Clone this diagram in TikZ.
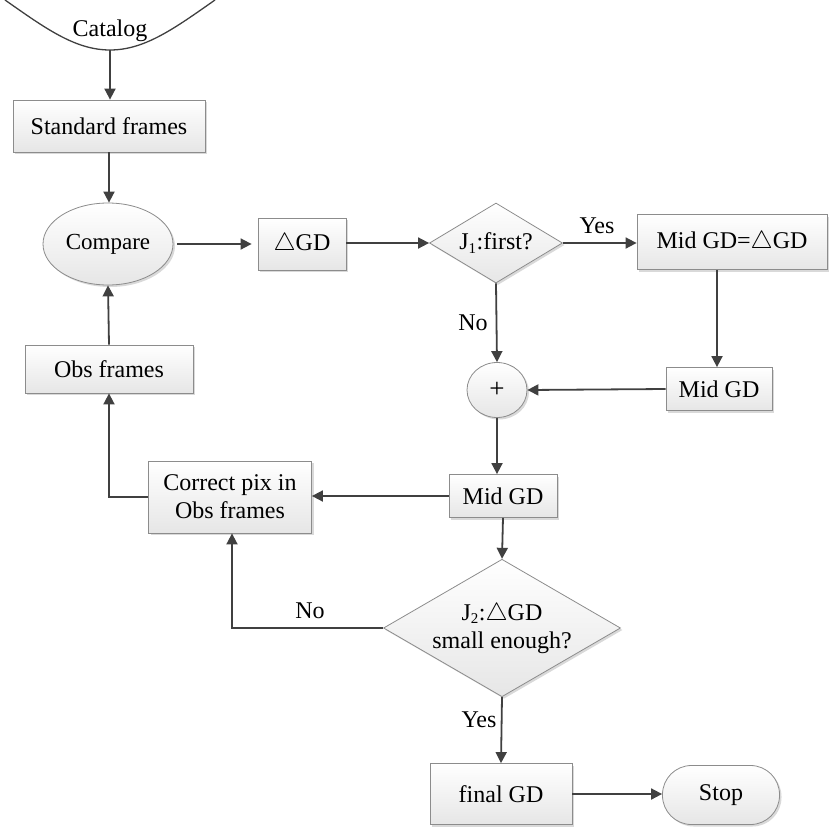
\documentclass[tikz,border=0pt]{standalone}
\usepackage{fontspec}
\setmainfont{Liberation Serif}
\usetikzlibrary{shapes.geometric,arrows.meta,shadows}
\definecolor{bordc}{HTML}{8C8C8C}
\definecolor{fillc}{HTML}{E6E6E6}
\definecolor{linec}{HTML}{404040}
\begin{document}
\begin{tikzpicture}[x=1pt,y=-1pt,
  base/.style={draw=bordc, line width=0.8pt, top color=white, bottom color=fillc,
    drop shadow={shadow xshift=2pt,shadow yshift=-2pt,fill=black!25,opacity=0.6},
    inner sep=0pt, align=center, font=\fontsize{24}{28}\selectfont},
  box/.style={base, rectangle},
  oval/.style={base, ellipse},
  dia/.style={base, diamond, aspect=1.6},
  term/.style={base, rectangle, rounded corners=29pt},
  lbl/.style={font=\fontsize{24}{28}\selectfont, inner sep=0pt},
  arr/.style={draw=linec, line width=1.8pt, -{Triangle[length=11pt,width=11pt]}},
  ln/.style={draw=linec, line width=1.8pt}
]
\useasboundingbox (0,0) rectangle (830,836);

% Catalog
\draw[ln, line width=1.3pt] (5,0) .. controls (45,28) and (75,50) .. (110,50) .. controls (145,50) and (175,28) .. (215,0);
\node[lbl] (catt) at (110,31) {Catalog};
\coordinate (cat) at (110,50);

\node[box, minimum width=192pt, minimum height=52pt] (std) at (109,126) {Standard frames};
\node[oval, minimum width=130pt, minimum height=82pt, font=\fontsize{23}{27}\selectfont] (cmp) at (108,244) {Compare};
\node[box, minimum width=88pt, minimum height=52pt] (dgd) at (302,244) {$\triangle$GD};
\node[dia, minimum width=133pt, minimum height=80pt] (j1) at (496,243) {J\textsubscript{\fontsize{15}{15}\selectfont 1}:first?};
\node[box, minimum width=190pt, minimum height=55pt] (mg1) at (732,242) {Mid GD=$\triangle$GD};
\node[oval, minimum width=60pt, minimum height=55pt, font=\fontsize{27}{30}\selectfont] (plus) at (497,390) {+};
\node[box, minimum width=106pt, minimum height=43pt] (mg2) at (719,389) {Mid GD};
\node[box, minimum width=108pt, minimum height=43pt] (mg3) at (503,496) {Mid GD};
\node[box, minimum width=163pt, minimum height=72pt] (corr) at (230,497) {Correct pix in\\Obs frames};
\node[box, minimum width=168pt, minimum height=48pt] (obs) at (109,369) {Obs frames};
\node[dia, minimum width=237pt, minimum height=113pt] (j2) at (502,628) {J\textsubscript{\fontsize{15}{15}\selectfont 2}:$\triangle$GD\\small enough?};
\node[box, minimum width=142pt, minimum height=61pt] (fin) at (501,794) {final GD};
\node[term, minimum width=117pt, minimum height=59pt] (stop) at (721,795) {Stop};

% labels
\node[lbl] (yes1) at (597,226) {Yes};
\node[lbl] (no1) at (473,323) {No};
\node[lbl] (no2) at (310,611) {No};
\node[lbl] (yes2) at (479,720) {Yes};

% connectors
\draw[arr] (cat) -- (std.north -| cat);
\draw[arr] (std.south) -- (std.south |- cmp.north);
\draw[arr, shorten <=4pt, shorten >=6pt] (cmp.east) -- (dgd.west |- cmp.east);
\draw[arr] (dgd.east |- j1.west) -- (j1.west);
\draw[arr] (j1.east) -- (mg1.west |- j1.east);
\coordinate (m1b) at (717,0 |- mg1.south);
\coordinate (m2t) at (717,0 |- mg2.north);
\draw[arr] (m1b) -- (m2t);
\draw[arr] (j1.south) -- (plus.north);
\draw[arr] (mg2.west) -- (plus.east);
\draw[arr] (plus.south) -- (plus.south |- mg3.north);
\draw[arr] (mg3.west) -- (corr.east |- mg3.west);
\draw[arr] (corr.west) -| (obs.south);
\draw[arr] (obs.north) -- (cmp.south);
\draw[arr] (mg3.south) -- (j2.north);
\draw[arr] (j2.west) -| (232,0 |- corr.south);
\draw[arr] (j2.south) -- (fin.north);
\draw[arr] (fin.east) -- (stop.west |- fin.east);
\end{tikzpicture}
\end{document}
